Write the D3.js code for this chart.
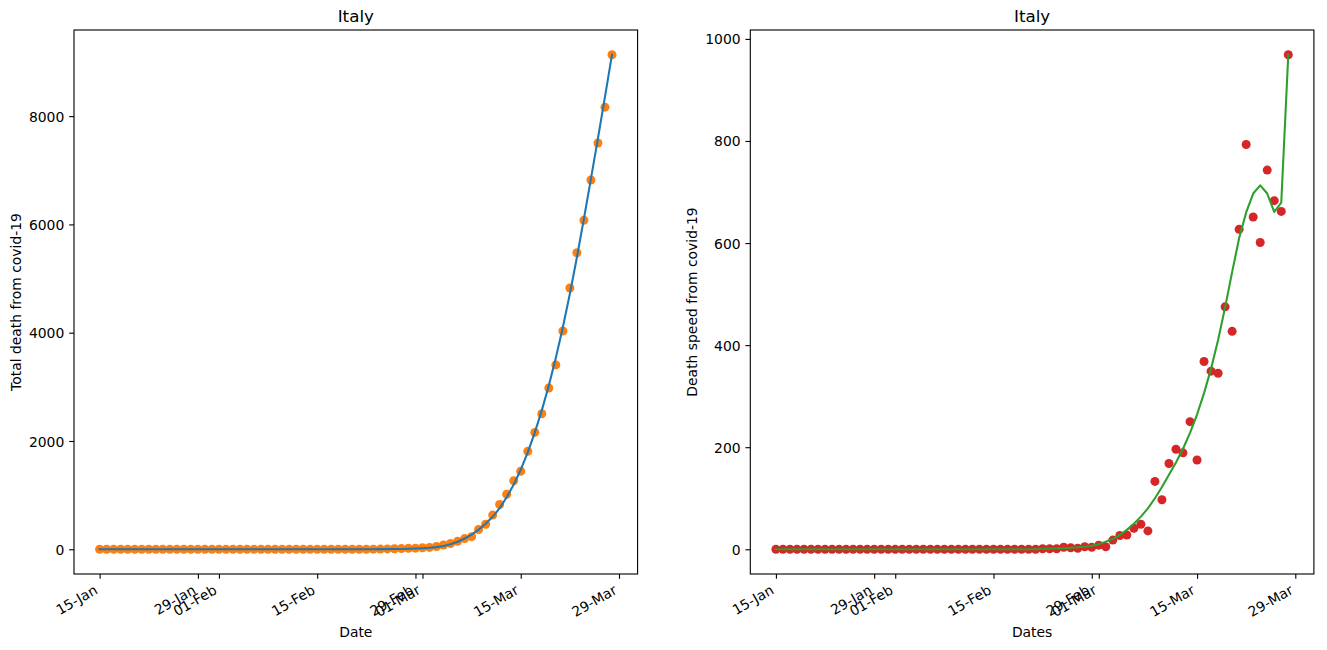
<!DOCTYPE html>
<html>
<head>
<meta charset="utf-8">
<script src="https://cdn.jsdelivr.net/npm/d3@7"></script>
<style>
  body { margin: 0; background: #fff; }
  svg { display: block; font-family: "DejaVu Sans", sans-serif; }
</style>
</head>
<body>
<script>
// days 15-Jan .. 28-Mar 2020
const firstDay = new Date(2020, 0, 15);
const lastDay = new Date(2020, 2, 28);
const dates = d3.timeDay.range(firstDay, d3.timeDay.offset(lastDay, 1));

const tickDates = [
  new Date(2020, 0, 15), new Date(2020, 0, 29), new Date(2020, 1, 1),
  new Date(2020, 1, 15), new Date(2020, 1, 29), new Date(2020, 2, 1),
  new Date(2020, 2, 15), new Date(2020, 2, 29)
];

const zeros38 = [0,0,0,0,0,0,0,0,0,0,0,0,0,0,0,0,0,0,0,0,0,0,0,0,0,0,0,0,0,0,0,0,0,0,0,0,0,0];

const totalDeaths = zeros38.concat([
  1, 2, 3, 7, 10, 12, 17, 21,
  29, 34, 52, 79, 107, 148, 197, 233, 366, 463, 631, 827, 1016, 1266,
  1441, 1809, 2158, 2503, 2978, 3405, 4032, 4825, 5476, 6077, 6820, 7503, 8165, 9134
]);

const totalFit = zeros38.concat([
  1, 1, 2, 3, 4, 6, 9, 13,
  19, 27, 40, 60, 92, 138, 198, 272, 362, 470, 600, 760, 960, 1195,
  1470, 1790, 2155, 2565, 3025, 3535, 4100, 4720, 5390, 6105, 6840, 7590, 8355, 9134
]);

const dailyDeaths = zeros38.concat([
  1, 1, 1, 4, 3, 2, 5, 4,
  8, 5, 18, 27, 28, 41, 49, 36, 133, 97, 168, 196, 189, 250,
  175, 368, 349, 345, 475, 427, 627, 793, 651, 601, 743, 683, 662, 969
]);

const dailySmooth = zeros38.concat([
  1, 1, 2, 2, 3, 4, 5, 7,
  10, 15, 20, 28, 38, 50, 64, 80, 100, 122, 146, 170, 197, 228,
  264, 306, 354, 410, 474, 543, 610, 660, 697, 713, 697, 661, 679, 969
]);

const leftTicks = [0, 2000, 4000, 6000, 8000];
const rightTicks = [0, 200, 400, 600, 800, 1000];

const W = 1327, H = 650;
const plotTop = 30, plotBottom = 574;
const tickLen = 4.86, pad = 4.86;
const fontSize = 13.9;

const svg = d3.select("body").append("svg")
  .attr("width", W).attr("height", H);

function drawPanel(opts) {
  const span = lastDay - firstDay;
  const x = d3.scaleTime()
    .domain([new Date(+firstDay - 0.05 * span), new Date(+lastDay + 0.05 * span)])
    .range([opts.x0, opts.x1]);
  const ymax = d3.max(opts.points);
  const y = d3.scaleLinear()
    .domain([-0.05 * ymax, ymax * 1.05])
    .range([plotBottom, plotTop]);

  const g = svg.append("g");

  g.selectAll(".dot")
    .data(opts.points)
    .enter()
    .append("circle")
    .attr("cx", (d, i) => x(dates[i]))
    .attr("cy", d => y(d))
    .attr("r", 4.5)
    .attr("fill", opts.dotColor);

  const line = d3.line()
    .x((d, i) => x(dates[i]))
    .y(d => y(d));

  g.append("path")
    .datum(opts.curve)
    .attr("d", line)
    .attr("fill", "none")
    .attr("stroke", opts.lineColor)
    .attr("stroke-width", 2.08)
    .attr("stroke-linejoin", "round")
    .attr("stroke-linecap", "square");

  // x axis
  const xAxis = g.append("g")
    .attr("transform", `translate(0,${plotBottom})`)
    .call(d3.axisBottom(x)
      .tickValues(tickDates)
      .tickFormat(d3.timeFormat("%d-%b"))
      .tickSize(tickLen)
      .tickSizeOuter(0));
  xAxis.select(".domain").remove();
  xAxis.selectAll(".tick line").attr("stroke", "#000").attr("stroke-width", 1.11);
  xAxis.selectAll(".tick text")
    .attr("y", null).attr("dy", null)
    .attr("fill", "#000")
    .attr("font-size", fontSize)
    .attr("font-family", "DejaVu Sans, sans-serif")
    .attr("text-anchor", "end")
    .attr("transform", `translate(-1.6,${tickLen + pad + 9.2}) rotate(-30)`);

  // y axis
  const yAxis = g.append("g")
    .attr("transform", `translate(${opts.x0},0)`)
    .call(d3.axisLeft(y)
      .tickValues(opts.yTicks)
      .tickFormat(d3.format("d"))
      .tickSize(tickLen)
      .tickPadding(pad)
      .tickSizeOuter(0));
  yAxis.select(".domain").remove();
  yAxis.selectAll(".tick line").attr("stroke", "#000").attr("stroke-width", 1.11);
  yAxis.selectAll(".tick text")
    .attr("fill", "#000")
    .attr("font-size", fontSize)
    .attr("font-family", "DejaVu Sans, sans-serif")
    .attr("dy", "0.36em");

  // frame
  g.append("rect")
    .attr("x", opts.x0).attr("y", plotTop)
    .attr("width", opts.x1 - opts.x0).attr("height", plotBottom - plotTop)
    .attr("fill", "none")
    .attr("stroke", "#000")
    .attr("stroke-width", 1.11);

  const cx = (opts.x0 + opts.x1) / 2;
  g.append("text")
    .attr("x", cx).attr("y", 21.7)
    .attr("text-anchor", "middle")
    .attr("font-size", 16.7)
    .text(opts.title);

  g.append("text")
    .attr("x", cx).attr("y", 636.6)
    .attr("text-anchor", "middle")
    .attr("font-size", fontSize)
    .text(opts.xLabel);

  g.append("text")
    .attr("transform", `translate(${opts.yLabelX},${(plotTop + plotBottom) / 2}) rotate(-90)`)
    .attr("text-anchor", "middle")
    .attr("font-size", fontSize)
    .text(opts.yLabel);
}

drawPanel({
  x0: 74, x1: 637.6,
  points: totalDeaths, curve: totalFit,
  dotColor: "#ff7f0e", lineColor: "#1f77b4",
  yTicks: leftTicks,
  title: "Italy", xLabel: "Date", yLabel: "Total death from covid-19",
  yLabelX: 21
});

drawPanel({
  x0: 750.3, x1: 1313.9,
  points: dailyDeaths, curve: dailySmooth,
  dotColor: "#d62728", lineColor: "#2ca02c",
  yTicks: rightTicks,
  title: "Italy", xLabel: "Dates", yLabel: "Death speed from covid-19",
  yLabelX: 697
});
</script>
</body>
</html>
